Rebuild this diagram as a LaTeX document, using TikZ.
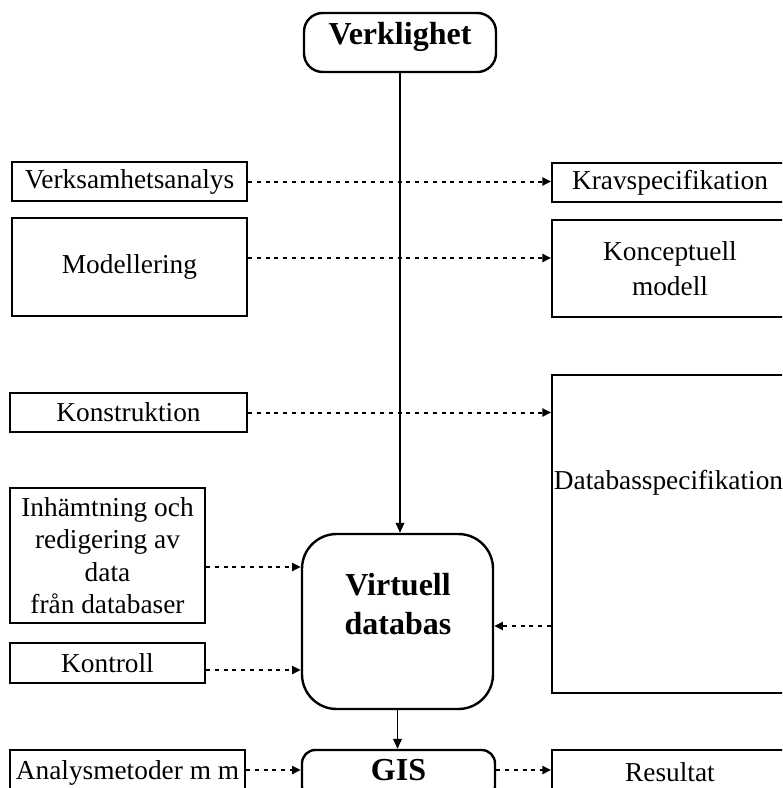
\documentclass[tikz,border=0pt]{standalone}
\usepackage{fontspec}
\setmainfont{Liberation Serif}
\usetikzlibrary{arrows.meta}
\begin{document}
\begin{tikzpicture}[x=0.75pt,y=-0.75pt,
  box/.style={draw,line width=1.4pt,rectangle,inner sep=0pt,align=center,font=\fontsize{20.5}{26}\selectfont},
  rbox/.style={draw,line width=1.8pt,rectangle,inner sep=0pt,align=center},
  txt/.style={inner sep=0pt,align=center},
  darr/.style={line width=1.5pt,dash pattern=on 3pt off 3.6pt,-{Triangle[length=6.5pt,width=6pt]}},
  sarr/.style={line width=1.3pt,-{Triangle[length=7.5pt,width=6.5pt]}}]
\useasboundingbox (0,0) rectangle (782,788);
\clip (0,0) rectangle (782,788);
% top
\node[rbox,rounded corners=14pt,minimum width=192*0.75pt,minimum height=59*0.75pt] (verk) at (400,42.5) {};
\node[txt,font=\bfseries\fontsize{24}{28}\selectfont] (verkt) at (400,37) {Verklighet};
% left column
\node[box,minimum width=235*0.75pt,minimum height=39*0.75pt] (va) at (129.5,181.5) {Verksamhetsanalys};
\node[box,minimum width=235*0.75pt,minimum height=98*0.75pt] (mod) at (129.5,267) {Modellering};
\node[box,minimum width=237*0.75pt,minimum height=39*0.75pt] (kons) at (128.5,412.5) {Konstruktion};
\node[box,minimum width=195*0.75pt,minimum height=135*0.75pt,font=\fontsize{20.5}{24.4}\selectfont] (inh) at (107.5,555.5) {Inhämtning och\\redigering av\\data\\från databaser};
\node[box,minimum width=195*0.75pt,minimum height=40*0.75pt] (kontr) at (107.5,663) {Kontroll};
\node[box,minimum width=235*0.75pt,minimum height=45*0.75pt] (ana) at (127.5,772.5) {Analysmetoder m m};
% right column
\node[box,minimum width=236*0.75pt,minimum height=39*0.75pt] (krav) at (670,182.5) {Kravspecifikation};
\node[box,minimum width=236*0.75pt,minimum height=97*0.75pt] (konc) at (670,268.5) {Konceptuell\\modell};
\node[box,minimum width=236*0.75pt,minimum height=318*0.75pt] (db) at (670,534) {};
\node[txt,font=\fontsize{20.5}{26}\selectfont] (dbt) at (668.5,483) {Databasspecifikation};
\node[box,minimum width=236*0.75pt,minimum height=45*0.75pt] (res) at (670,772.5) {Resultat};
% centre
\node[rbox,rounded corners=26pt,minimum width=191*0.75pt,minimum height=175*0.75pt] (virt) at (397.5,621.5) {};
\node[txt,font=\bfseries\fontsize{24}{29}\selectfont] (virtt) at (398,604) {Virtuell\\databas};
\node[rbox,rounded corners=10pt,minimum width=193*0.75pt,minimum height=50*0.75pt] (gis) at (398.5,775) {};
\node[txt,font=\bfseries\fontsize{24}{28}\selectfont] (gist) at (398.5,770) {GIS};
% helper coordinates
\coordinate (y258) at (0,258);
\coordinate (y567) at (0,567);
\coordinate (y670) at (0,670);
\coordinate (y626) at (0,626);
\coordinate (y770) at (0,770);
% solid arrows
\draw[sarr] (verk.south) -- (verk.south |- virt.north);
\draw[sarr] (virt.south) -- (virt.south |- gis.north);
% dotted arrows
\draw[darr] (va.east) -- (va.east -| krav.west);
\draw[darr] (mod.east |- y258) -- (konc.west |- y258);
\draw[darr] (kons.east) -- (kons.east -| db.west);
\draw[darr] (inh.east |- y567) -- (virt.west |- y567);
\draw[darr] (kontr.east |- y670) -- (virt.west |- y670);
\draw[darr] (db.west |- y626) -- (virt.east |- y626);
\draw[darr] (ana.east |- y770) -- (gis.west |- y770);
\draw[darr] (gis.east |- y770) -- (res.west |- y770);
\end{tikzpicture}
\end{document}
